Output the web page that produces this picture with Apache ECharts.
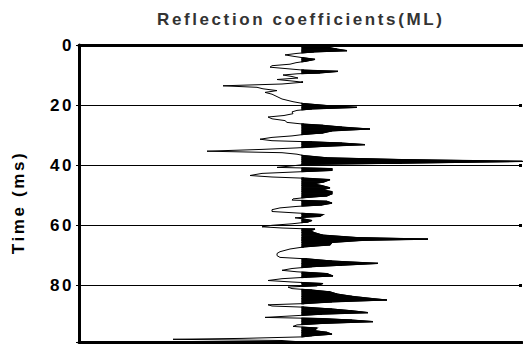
<!DOCTYPE html>
<html>
<head>
<meta charset="utf-8">
<script src="https://cdn.jsdelivr.net/npm/echarts@6.0.0/dist/echarts.min.js"></script>
<style>
  html, body { margin: 0; padding: 0; background: #fff; }
  #chart { width: 523px; height: 347px; }
  #chart svg text { letter-spacing: 2.6px; }
</style>
</head>
<body>
<div id="chart"></div>
<script>
// trace samples: time (ms) and reflection coefficient
const timeMs = [
  0, 0.7, 1.4, 1.9, 2.3, 2.8, 3.3, 3.8, 4.3, 4.8, 5.4, 5.9, 6.4, 6.9, 7.4, 7.9, 8.4, 8.8, 9.3, 9.6,
  10.0, 10.5, 11.0, 11.5, 12.0, 12.4, 13.0, 13.6, 14.1, 14.6, 15.2, 15.8, 16.4, 17.2, 18.0, 18.9, 19.5,
  20.2, 20.8, 21.3, 21.8, 22.3, 22.9, 23.5, 24.0, 24.6, 25.2, 25.8, 26.4, 26.8, 27.4, 28.0, 28.6, 29.3, 29.8,
  30.3, 30.8, 31.4, 31.9, 32.3, 32.7, 33.2, 33.8, 34.3, 34.8, 35.4, 35.9, 36.4, 36.9, 37.6, 38.2, 38.8, 39.4, 39.8,
  40.3, 40.8, 41.2, 41.8, 42.3, 42.8, 43.5, 44.0, 44.4, 44.9, 45.6, 46.3, 46.9, 47.6, 48.3, 48.9, 49.6,
  50.3, 50.8, 51.3, 51.7, 52.1, 52.7, 53.3, 53.8, 54.3, 54.9, 55.5, 56.0, 56.5, 57.1, 57.6, 58.0, 58.5, 59.0, 59.6,
  60.1, 60.6, 61.0, 61.4, 61.9, 62.5, 63.4, 64.2, 64.7, 65.1, 65.8, 66.6, 67.3, 68.0, 68.9, 69.5,
  70.2, 70.8, 71.3, 72.0, 72.8, 73.4, 73.9, 74.5, 75.1, 75.6, 76.2, 77.0, 77.4, 77.9, 78.5, 79.0, 79.5,
  80.2, 80.7, 81.2, 81.7, 82.3, 83.0, 83.8, 84.5, 85.0, 85.6, 86.2, 86.6, 87.0, 87.4, 88.0, 88.6, 89.2, 89.7,
  90.3, 90.8, 91.2, 91.7, 92.2, 92.8, 93.3, 93.8, 94.4, 95.2, 95.8, 96.4, 96.9, 97.3, 97.8, 98.1, 98.5, 99.0
];
const coefs = [
  0.005, 0.025, 0.035, 0.045, 0.012, -0.005, -0.017, -0.008, 0.002, 0.013, 0.004, -0.006, -0.012, -0.030, -0.032, -0.015, 0.002, 0.036, 0.018, -0.005,
  -0.019, -0.010, -0.004, -0.025, -0.010, 0.001, -0.020, -0.079, -0.045, -0.039, -0.025, -0.037, -0.030, -0.025, -0.020, -0.009, 0.001,
  0.025, 0.055, 0.010, -0.005, -0.010, -0.009, -0.018, -0.034, -0.030, -0.017, -0.015, 0.002, 0.021, 0.040, 0.068, 0.030, 0.021, 0.002,
  -0.010, -0.030, -0.042, -0.030, 0.010, 0.040, 0.063, 0.020, -0.005, -0.040, -0.095, -0.020, -0.005, 0.002, 0.025, 0.100, 0.221, 0.100, 0.003,
  -0.010, -0.025, 0.030, 0.030, -0.005, -0.040, -0.052, -0.030, 0.002, 0.028, 0.022, 0.011, 0.020, 0.028, 0.020, 0.030, 0.030,
  0.025, 0.005, -0.009, -0.010, 0.025, 0.030, 0.020, -0.005, -0.022, -0.030, -0.030, -0.005, 0.021, 0.018, -0.007, 0.002, 0.010, 0.006, -0.010,
  -0.030, -0.040, -0.020, 0.013, 0.008, 0.012, 0.021, 0.055, 0.126, 0.060, 0.030, 0.028, 0.002, -0.012, -0.022, -0.025,
  -0.025, -0.022, 0.005, 0.030, 0.076, 0.040, 0.010, -0.010, -0.020, -0.005, 0.025, 0.031, 0.005, -0.020, -0.034, -0.010, 0.021,
  0.015, -0.014, -0.010, 0.010, 0.028, 0.035, 0.050, 0.070, 0.085, 0.030, 0.002, -0.034, -0.030, 0.002, 0.030, 0.050, 0.066, 0.020,
  -0.010, -0.037, 0.020, 0.050, 0.071, 0.020, -0.005, -0.009, 0.015, 0.012, 0.025, 0.030, 0.010, 0.000, -0.060, -0.129, -0.020, 0.000
];
const timeTicks = [0, 20, 40, 60, 80];

const FONT = '"Liberation Sans", Arial, sans-serif';

const tracePoints = timeMs.map((t, i) => [coefs[i], t]);
// consecutive sample pairs, used to fill the positive lobes
const segments = timeMs.slice(0, -1).map((t, i) => [t, coefs[i], timeMs[i + 1], coefs[i + 1]]);

function renderPositiveFill(params, api) {
  const t0 = api.value(0), v0 = api.value(1), t1 = api.value(2), v1 = api.value(3);
  if (v0 <= 0 && v1 <= 0) return null;
  const cross = t0 + (t1 - t0) * v0 / (v0 - v1);
  const pts = [];
  if (v0 > 0) pts.push([0, t0], [v0, t0]); else pts.push([0, cross]);
  if (v1 > 0) pts.push([v1, t1], [0, t1]); else pts.push([0, cross]);
  return {
    type: 'polygon',
    shape: { points: pts.map(p => api.coord(p)) },
    style: { fill: '#000', stroke: '#000', lineWidth: 1.2, lineJoin: 'miter' }
  };
}

const chart = echarts.init(document.getElementById('chart'), null, { renderer: 'svg' });

const xBorder = {
  type: 'value',
  min: -0.223,
  max: 0.22,
  axisLine: { show: true, onZero: false, lineStyle: { color: '#000', width: 3 } },
  axisTick: { show: false },
  axisLabel: { show: false },
  splitLine: { show: false }
};

chart.setOption({
  animation: false,
  backgroundColor: '#fff',
  title: {
    text: 'Reflection coefficients(ML)',
    left: 152,
    top: 6,
    textStyle: { fontFamily: FONT, fontSize: 17, fontWeight: 'bold', color: '#333' }
  },
  grid: { left: 79, right: 1, top: 45, bottom: 5 },
  xAxis: [
    Object.assign({ position: 'bottom' }, xBorder),
    Object.assign({ position: 'top' }, xBorder)
  ],
  yAxis: [
    {
      type: 'value',
      inverse: true,
      min: 0,
      max: 99,
      interval: 20,
      position: 'left',
      name: 'Time (ms)',
      nameLocation: 'middle',
      nameGap: 52,
      nameTextStyle: {
        fontFamily: FONT, fontSize: 17, fontWeight: 'bold', color: '#000',
        padding: [0, 18, 0, 0]
      },
      axisLine: { show: true, onZero: false, lineStyle: { color: '#000', width: 3 } },
      axisTick: { show: true, length: 3, lineStyle: { color: '#000', width: 1 } },
      axisLabel: {
        margin: 5,
        fontFamily: FONT,
        fontSize: 17,
        fontWeight: 'bold',
        color: '#000',
        formatter: v => (timeTicks.includes(v) ? String(v) : '')
      },
      splitLine: { show: true, lineStyle: { color: '#000', width: 1 } }
    },
    {
      type: 'value',
      inverse: true,
      min: 0,
      max: 99,
      interval: 20,
      position: 'right',
      axisLine: { show: false, onZero: false },
      axisTick: { show: true, inside: true, length: 3, lineStyle: { color: '#000', width: 3 } },
      axisLabel: { show: false },
      splitLine: { show: false }
    }
  ],
  series: [
    {
      type: 'custom',
      xAxisIndex: 0,
      yAxisIndex: 0,
      clip: true,
      renderItem: renderPositiveFill,
      encode: { x: [1, 3], y: [0, 2] },
      data: segments,
      silent: true
    },
    {
      type: 'line',
      xAxisIndex: 0,
      yAxisIndex: 0,
      data: tracePoints,
      smooth: false,
      showSymbol: false,
      clip: true,
      lineStyle: { color: '#000', width: 1 },
      silent: true
    }
  ]
});
</script>
</body>
</html>
